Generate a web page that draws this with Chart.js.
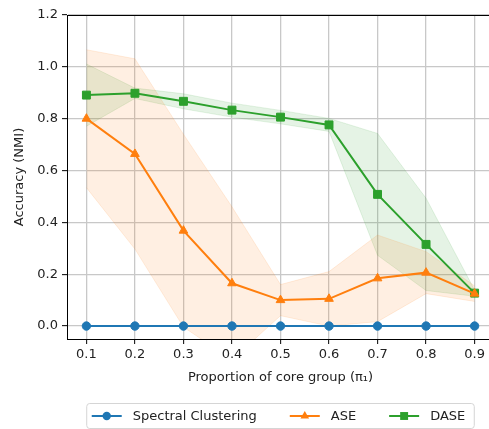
<!DOCTYPE html>
<html>
<head>
<meta charset="utf-8">
<script src="https://cdn.jsdelivr.net/npm/chart.js@4.4.1/dist/chart.umd.min.js"></script>
<style>
  html, body { margin: 0; padding: 0; background: #fff; overflow: hidden; }
  #ventana { position: relative; width: 489px; height: 429px; overflow: hidden; }
  #contenedor { position: absolute; left: 0; top: 0; width: 496px; height: 429px; }
</style>
</head>
<body>
<div id="ventana">
  <div id="contenedor"><canvas id="grafico"></canvas></div>
</div>
<script>
// Proporción del grupo núcleo (eje X)
const proporciones = [0.1, 0.2, 0.3, 0.4, 0.5, 0.6, 0.7, 0.8, 0.9];
const ticksY = [0.0, 0.2, 0.4, 0.6, 0.8, 1.0, 1.2];

// NMI medio por método
const nmiSpectral = [0, 0, 0, 0, 0, 0, 0, 0, 0];
const nmiASE = [0.800, 0.664, 0.368, 0.165, 0.100, 0.105, 0.184, 0.206, 0.125];
const nmiDASE = [0.891, 0.898, 0.867, 0.833, 0.806, 0.776, 0.508, 0.315, 0.127];

// Desviación estándar (bandas sombreadas)
const stdASE = [0.266, 0.367, 0.372, 0.295, 0.060, 0.105, 0.167, 0.081, 0.030];
const stdDASE = [0.120, 0.020, 0.029, 0.027, 0.026, 0.025, 0.235, 0.178, 0.012];

const colores = {
  spectral: '#1f77b4',
  ase: '#ff7f0e',
  dase: '#2ca02c'
};

function puntos(valores) {
  return proporciones.map((x, i) => ({x: x, y: valores[i]}));
}
function banda(media, std, signo) {
  return proporciones.map((x, i) => ({x: x, y: media[i] + signo * std[i]}));
}

function datasetBanda(label, datos, color, fill) {
  return {
    label: label,
    data: datos,
    borderColor: color,
    backgroundColor: color,
    borderWidth: 1,
    pointRadius: 0,
    fill: fill,
    order: 10
  };
}

function datasetLinea(label, datos, color, estilo, radio) {
  return {
    label: label,
    data: datos,
    borderColor: color,
    backgroundColor: color,
    borderWidth: 2,
    pointStyle: estilo,
    pointRadius: radio,
    pointBorderWidth: 1,
    pointBorderColor: color,
    pointBackgroundColor: color,
    fill: false,
    clip: false,
    order: 1
  };
}

const bandaASE = 'rgba(255, 127, 14, 0.12)';
const bandaDASE = 'rgba(44, 160, 44, 0.12)';

const datasets = [
  datasetBanda('ASE sup', banda(nmiASE, stdASE, 1), bandaASE, '+1'),
  datasetBanda('ASE inf', banda(nmiASE, stdASE, -1), bandaASE, false),
  datasetBanda('DASE sup', banda(nmiDASE, stdDASE, 1), bandaDASE, '+1'),
  datasetBanda('DASE inf', banda(nmiDASE, stdDASE, -1), bandaDASE, false),
  datasetLinea('Spectral Clustering', puntos(nmiSpectral), colores.spectral, 'circle', 4.2),
  datasetLinea('ASE', puntos(nmiASE), colores.ase, 'triangle', 5),
  datasetLinea('DASE', puntos(nmiDASE), colores.dase, 'rect', 5.6)
];

const fuente = 'DejaVu Sans';
const colorTexto = '#222';

// Dibuja un marcador para la leyenda
function dibujarMarcador(ctx, estilo, x, y, r) {
  ctx.beginPath();
  if (estilo === 'circle') {
    ctx.arc(x, y, r, 0, Math.PI * 2);
  } else if (estilo === 'triangle') {
    ctx.moveTo(x, y - r);
    ctx.lineTo(x + r * Math.sin(Math.PI * 2 / 3), y - r * Math.cos(Math.PI * 2 / 3));
    ctx.lineTo(x - r * Math.sin(Math.PI * 2 / 3), y - r * Math.cos(Math.PI * 2 / 3));
    ctx.closePath();
  } else {
    const s = r * Math.SQRT1_2;
    ctx.rect(x - s, y - s, 2 * s, 2 * s);
  }
  ctx.fill();
}

const entradasLeyenda = [
  {label: 'Spectral Clustering', color: colores.spectral, estilo: 'circle', r: 4.2},
  {label: 'ASE', color: colores.ase, estilo: 'triangle', r: 5},
  {label: 'DASE', color: colores.dase, estilo: 'rect', r: 5.6}
];

// Marco superior y leyenda inferior al estilo matplotlib
const pluginMarco = {
  id: 'marco',
  afterDraw(chart) {
    const ctx = chart.ctx;
    const a = chart.chartArea;
    ctx.save();
    ctx.strokeStyle = '#000';
    ctx.lineWidth = 1;
    ctx.beginPath();
    ctx.moveTo(a.left, a.top + 0.5);
    ctx.lineTo(a.right, a.top + 0.5);
    ctx.moveTo(a.right - 0.5, a.top);
    ctx.lineTo(a.right - 0.5, a.bottom);
    ctx.stroke();

    // leyenda
    ctx.font = '13px "' + fuente + '"';
    const largoLinea = 30, separacion = 11, entreItems = 33, relleno = 7;
    let ancho = 0;
    entradasLeyenda.forEach((e, i) => {
      e.w = ctx.measureText(e.label).width;
      ancho += largoLinea + separacion + e.w + (i > 0 ? entreItems : 0);
    });
    const centro = (a.left + a.right) / 2;
    const cajaX = centro - ancho / 2 - relleno;
    const cajaY = 403.5, cajaH = 25, cajaW = ancho + 2 * relleno;
    ctx.beginPath();
    ctx.roundRect(cajaX, cajaY, cajaW, cajaH, 3);
    ctx.fillStyle = 'rgba(255,255,255,0.8)';
    ctx.fill();
    ctx.strokeStyle = '#d5d5d5';
    ctx.stroke();

    let x = cajaX + relleno - 2;
    const y = cajaY + cajaH / 2;
    entradasLeyenda.forEach(e => {
      ctx.strokeStyle = e.color;
      ctx.fillStyle = e.color;
      ctx.lineWidth = 2;
      ctx.beginPath();
      ctx.moveTo(x, y);
      ctx.lineTo(x + largoLinea, y);
      ctx.stroke();
      dibujarMarcador(ctx, e.estilo, x + largoLinea / 2, y, e.r);
      ctx.fillStyle = colorTexto;
      ctx.textBaseline = 'middle';
      ctx.textAlign = 'left';
      ctx.fillText(e.label, x + largoLinea + separacion, y + 1);
      x += largoLinea + separacion + e.w + entreItems;
    });
    ctx.restore();
  }
};

const ctx = document.getElementById('grafico').getContext('2d');
const chart = new Chart(ctx, {
  type: 'line',
  data: {datasets: datasets},
  plugins: [pluginMarco],
  options: {
    responsive: true,
    maintainAspectRatio: false,
    animation: false,
    devicePixelRatio: 1,
    layout: {autoPadding: false, padding: {left: 0, top: 15, right: 2, bottom: 0}},
    plugins: {
      legend: {display: false},
      tooltip: {enabled: false},
      filler: {propagate: false}
    },
    scales: {
      x: {
        type: 'linear',
        min: 0.06,
        max: 0.94,
        afterBuildTicks: axis => { axis.ticks = proporciones.map(v => ({value: v})); },
        afterFit: axis => {
          axis.height = 90;
          axis.paddingLeft = 0;
          axis.paddingRight = 0;
        },
        grid: {color: '#c8c8c8', lineWidth: 1.3, tickColor: '#000', tickLength: 5, tickWidth: 1},
        border: {display: true, color: '#000', width: 1},
        ticks: {
          color: colorTexto,
          font: {family: fuente, size: 13},
          padding: 3,
          maxRotation: 0,
          callback: v => v.toFixed(1)
        },
        title: {
          display: true,
          text: 'Proportion of core group (π₁)',
          color: colorTexto,
          font: {family: fuente, size: 13},
          padding: {top: 0, bottom: 44}
        }
      },
      y: {
        type: 'linear',
        min: -0.05,
        max: 1.2,
        afterBuildTicks: axis => { axis.ticks = ticksY.map(v => ({value: v})); },
        afterFit: axis => {
          axis.width = 67;
          axis.paddingTop = 0;
          axis.paddingBottom = 0;
        },
        grid: {color: '#c8c8c8', lineWidth: 1.3, tickColor: '#000', tickLength: 5, tickWidth: 1},
        border: {display: true, color: '#000', width: 1},
        ticks: {
          color: colorTexto,
          font: {family: fuente, size: 13},
          padding: 4,
          callback: v => v.toFixed(1)
        },
        title: {
          display: true,
          text: 'Accuracy (NMI)',
          color: colorTexto,
          font: {family: fuente, size: 13},
          padding: {top: 12, bottom: 0}
        }
      }
    }
  }
});
</script>
</body>
</html>
